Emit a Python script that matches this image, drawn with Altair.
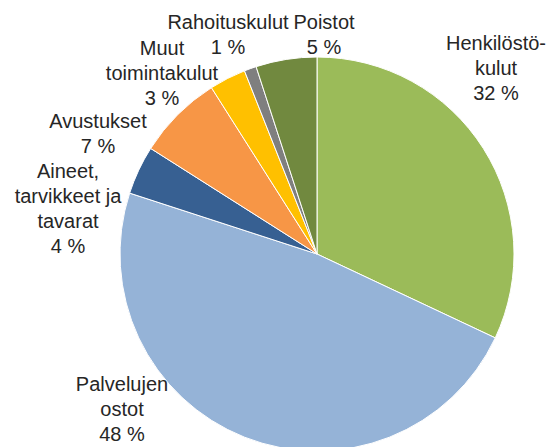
import altair as alt
import pandas as pd

# Data
categories = ["Henkilöstökulut", "Palvelujen ostot", "Aineet, tarvikkeet ja tavarat",
              "Avustukset", "Muut toimintakulut", "Rahoituskulut", "Poistot"]
values = [32, 48, 4, 7, 3, 1, 5]
label_names = ["Henkilöstö-\nkulut", "Palvelujen\nostot", "Aineet,\ntarvikkeet ja\ntavarat",
               "Avustukset", "Muut\ntoimintakulut", "Rahoituskulut", "Poistot"]
colors = ["#9BBB59", "#95B3D7", "#376092", "#F79646", "#FFC000", "#7F7F7F", "#71893F"]

# Label anchor positions (pixels, first-line baseline, centered)
label_x = [488, 114, 60, 90, 154, 220, 316]
label_y = [42, 383, 170, 120, 47, 21, 21]

df = pd.DataFrame({
    "idx": list(range(len(categories))),
    "category": categories,
    "value": values,
    "label": [f"{n}\n{v} %" for n, v in zip(label_names, values)],
    "lx": label_x,
    "ly": label_y,
})

base = alt.Chart(df)

pie = base.mark_arc(radius=197, stroke="white", strokeWidth=1).encode(
    theta=alt.Theta("value:Q", stack=True),
    color=alt.Color("category:N", scale=alt.Scale(domain=categories, range=colors), legend=None),
    order=alt.Order("idx:Q"),
    x=alt.value(309),
    y=alt.value(246),
)

labels = base.mark_text(
    align="center", baseline="alphabetic", lineBreak="\n",
    fontSize=20, font="Liberation Sans", lineHeight=25, color="#262626",
).encode(
    x=alt.X("lx:Q", scale=None, axis=None),
    y=alt.Y("ly:Q", scale=None, axis=None),
    text="label:N",
)

chart = alt.layer(pie, labels).properties(
    width=538, height=439, padding=0,
    autosize=alt.AutoSizeParams(type="none"),
).configure_view(stroke=None)

chart.save("out.html", embed_options={"renderer": "svg", "actions": False})
